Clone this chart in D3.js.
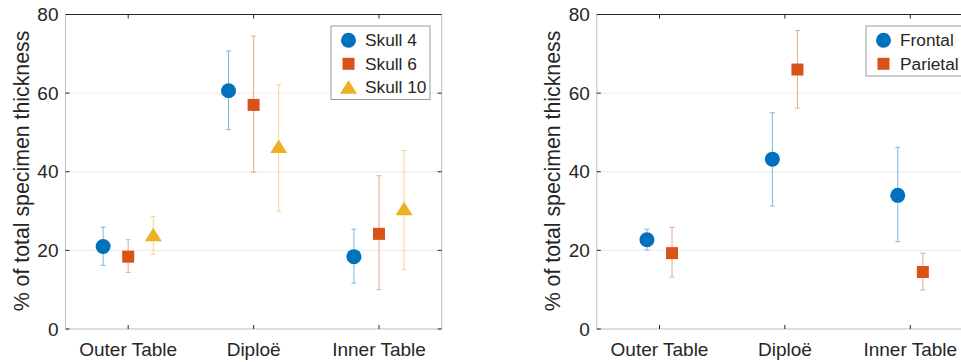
<!DOCTYPE html>
<html>
<head>
<meta charset="utf-8">
<script src="https://cdn.jsdelivr.net/npm/d3@7"></script>
<style>
  body { margin: 0; background: #fff; }
  text { font-family: "Liberation Sans", Arial, sans-serif; fill: #262626; }
</style>
</head>
<body>
<div id="chart"></div>
<script>
const categories = ["Outer Table", "Diploë", "Inner Table"];
const yTicks = [0, 20, 40, 60, 80];

// left panel: skulls
const skull4Mean = [21.0, 60.6, 18.4];
const skull4Lo = [16.2, 50.7, 11.7];
const skull4Hi = [25.9, 70.7, 25.4];
const skull6Mean = [18.4, 57.0, 24.2];
const skull6Lo = [14.4, 39.9, 10.0];
const skull6Hi = [22.7, 74.5, 39.0];
const skull10Mean = [24.0, 46.4, 30.6];
const skull10Lo = [19.0, 30.0, 15.1];
const skull10Hi = [28.6, 62.1, 45.4];

// right panel: bones
const frontalMean = [22.7, 43.2, 34.0];
const frontalLo = [20.1, 31.3, 22.2];
const frontalHi = [25.4, 55.0, 46.2];
const parietalMean = [19.3, 66.0, 14.5];
const parietalLo = [13.2, 56.2, 9.9];
const parietalHi = [25.8, 75.9, 19.3];

const blue = "#0072BD", orange = "#D95319", yellow = "#EDB120";

const svg = d3.select("#chart").append("svg")
  .attr("width", 961)
  .attr("height", 362);

function marker(g, shape, color, x, y) {
  if (shape === "circle") {
    g.append("circle").attr("cx", x).attr("cy", y).attr("r", 7.5).attr("fill", color);
  } else if (shape === "square") {
    g.append("rect").attr("x", x - 6).attr("y", y - 6).attr("width", 12).attr("height", 12).attr("fill", color);
  } else {
    // triangle centred on its bounding box like matlab's '^'
    g.append("path")
      .attr("d", `M${x},${y - 7}L${x + 8.5},${y + 6.5}L${x - 8.5},${y + 6.5}Z`)
      .attr("fill", color);
  }
}

function drawPanel(opts) {
  const g = svg.append("g");
  const x = d3.scaleLinear().domain([0.5, 3.5]).range([opts.left, opts.left + 376.2]);
  const y = d3.scaleLinear().domain([0, 80]).range([329, 14.5]);
  const x0 = x.range()[0], x1 = x.range()[1];

  // grid
  g.selectAll(".grid").data([20, 40, 60]).enter().append("line")
    .attr("x1", x0).attr("x2", x1)
    .attr("y1", d => y(d)).attr("y2", d => y(d))
    .attr("stroke", "#ebebeb").attr("stroke-width", 1);

  // box
  g.append("line").attr("x1", x0).attr("x2", x1).attr("y1", y(80)).attr("y2", y(80))
    .attr("stroke", "#262626");
  g.append("path")
    .attr("d", `M${x0},${y(80)}V${y(0)}H${x1}V${y(80)}`)
    .attr("fill", "none").attr("stroke", "#bdbdbd");

  // ticks
  [1, 2, 3].forEach(t => {
    g.append("line").attr("x1", x(t)).attr("x2", x(t)).attr("y1", y(0)).attr("y2", y(0) - 4).attr("stroke", "#262626");
    g.append("line").attr("x1", x(t)).attr("x2", x(t)).attr("y1", y(80)).attr("y2", y(80) + 4).attr("stroke", "#262626");
  });
  yTicks.forEach(t => {
    g.append("line").attr("x1", x0).attr("x2", x0 + 4).attr("y1", y(t)).attr("y2", y(t)).attr("stroke", "#262626");
    g.append("line").attr("x1", x1).attr("x2", x1 - 4).attr("y1", y(t)).attr("y2", y(t)).attr("stroke", "#262626");
  });

  g.selectAll(".ytl").data(yTicks).enter().append("text")
    .attr("x", x0 - 7).attr("y", d => y(d)).attr("dy", "0.35em")
    .attr("text-anchor", "end").attr("font-size", 19)
    .text(d => d);
  g.selectAll(".xtl").data(categories).enter().append("text")
    .attr("x", (d, i) => x(i + 1)).attr("y", 356)
    .attr("text-anchor", "middle").attr("font-size", 19)
    .text(d => d);

  g.append("text")
    .attr("transform", `translate(${opts.labelX},171) rotate(-90)`)
    .attr("text-anchor", "middle").attr("font-size", 21.3)
    .text("% of total specimen thickness");

  // series
  opts.series.forEach(s => {
    categories.forEach((c, i) => {
      const cx = x(i + 1 + s.offset);
      const eb = g.append("g").attr("stroke", s.color).attr("stroke-width", 1).attr("opacity", 0.5);
      eb.append("line").attr("x1", cx).attr("x2", cx).attr("y1", y(s.lo[i])).attr("y2", y(s.hi[i]));
      eb.append("line").attr("x1", cx - 2.5).attr("x2", cx + 2.5).attr("y1", y(s.lo[i])).attr("y2", y(s.lo[i]));
      eb.append("line").attr("x1", cx - 2.5).attr("x2", cx + 2.5).attr("y1", y(s.hi[i])).attr("y2", y(s.hi[i]));
      marker(g, s.shape, s.color, cx, y(s.mean[i]));
    });
  });

  // legend
  const lg = g.append("g");
  lg.append("rect")
    .attr("x", opts.legend.x).attr("y", 26)
    .attr("width", opts.legend.w).attr("height", opts.series.length * 23.5 + 3)
    .attr("fill", "#fff").attr("stroke", "#999").attr("stroke-width", 1);
  opts.series.forEach((s, i) => {
    const ly = 40.3 + i * 23.5;
    marker(lg, s.shape, s.color, opts.legend.x + 17.5, ly);
    lg.append("text").attr("x", opts.legend.x + 34).attr("y", ly).attr("dy", "0.35em")
      .attr("font-size", 17.3).text(s.name);
  });
}

drawPanel({
  left: 65.5,
  labelX: 29,
  legend: { x: 331, w: 99 },
  series: [
    { name: "Skull 4", shape: "circle", color: blue, offset: -0.2, mean: skull4Mean, lo: skull4Lo, hi: skull4Hi },
    { name: "Skull 6", shape: "square", color: orange, offset: 0, mean: skull6Mean, lo: skull6Lo, hi: skull6Hi },
    { name: "Skull 10", shape: "triangle", color: yellow, offset: 0.2, mean: skull10Mean, lo: skull10Lo, hi: skull10Hi }
  ]
});

drawPanel({
  left: 596.8,
  labelX: 560,
  legend: { x: 866, w: 100 },
  series: [
    { name: "Frontal", shape: "circle", color: blue, offset: -0.1, mean: frontalMean, lo: frontalLo, hi: frontalHi },
    { name: "Parietal", shape: "square", color: orange, offset: 0.1, mean: parietalMean, lo: parietalLo, hi: parietalHi }
  ]
});
</script>
</body>
</html>
